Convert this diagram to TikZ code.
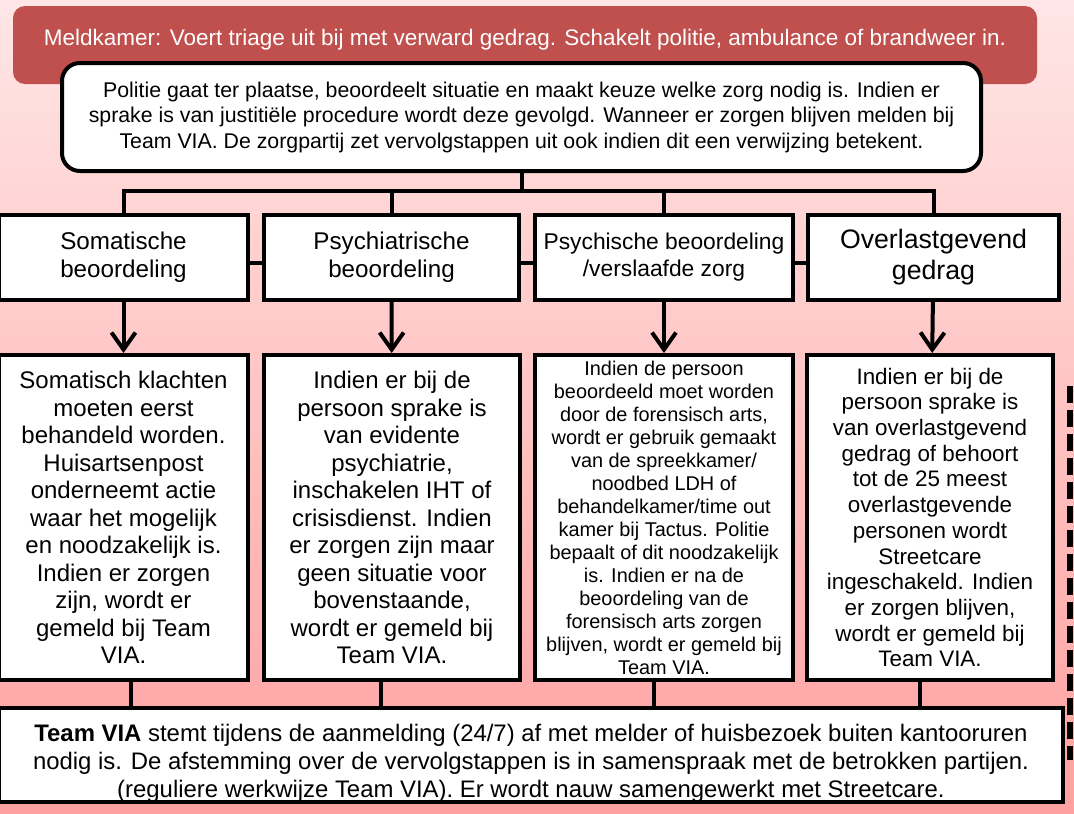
\documentclass[tikz,border=0pt]{standalone}
\usepackage{fontspec}
\setmainfont{Liberation Sans}
\usetikzlibrary{positioning, arrows.meta}

\definecolor{meldred}{RGB}{192,80,77}
\definecolor{bgtop}{RGB}{255,230,230}
\definecolor{bgbottom}{RGB}{255,160,160}

\begin{document}
\begin{tikzpicture}[x=1pt, y=-1pt,
    alarm/.style={rectangle, fill=meldred, rounded corners=12pt, text=white,
                  align=center, text height=0pt, text depth=0pt,
                  font=\fontsize{22.5}{26}\selectfont},
    police/.style={rectangle, draw=black, fill=white, line width=4pt, rounded corners=18pt,
                   align=center, font=\fontsize{21.3}{25.5}\selectfont},
    choice/.style={rectangle, draw=black, fill=white, line width=4pt,
                   minimum height=85pt, align=center, font=\fontsize{24.2}{28}\selectfont},
    detail/.style={rectangle, draw=black, fill=white, line width=4pt,
                   minimum height=325pt, align=center, font=\fontsize{24}{27.5}\selectfont},
    team/.style={rectangle, draw=black, fill=white, line width=4pt,
                 minimum width=1064pt, minimum height=92pt, align=center,
                 text height=89pt, inner ysep=0pt,
                 font=\fontsize{23.9}{28}\selectfont},
    joint/.style={draw=black, line width=4pt},
    flow/.style={joint, -{Straight Barb[length=17pt, width=24pt]}},
    dashline/.style={draw=black, line width=6pt, dash pattern=on 17pt off 7pt}
]
    \useasboundingbox (0,0) rectangle (1074,814);
    \fill[top color=bgtop, bottom color=bgbottom] (0,0) rectangle (1074,814);

    % Meldkamer and politie
    \node[alarm, minimum width=1024pt, minimum height=78pt] (meld) at (525,45)
        {Meldkamer: Voert triage uit bij met verward gedrag. Schakelt politie, ambulance of brandweer in.};
    \node[police, minimum width=919pt, minimum height=108pt] (pol) at (521.5,117)
        {Politie gaat ter plaatse, beoordeelt situatie en maakt keuze welke zorg nodig is. Indien er\\
         sprake is van justitiële procedure wordt deze gevolgd. Wanneer er zorgen blijven melden bij\\
         Team VIA. De zorgpartij zet vervolgstappen uit ook indien dit een verwijzing betekent.};

    % Beoordeling row
    \node[choice, minimum width=249pt] (som) at (123.5,257.5) {Somatische\\beoordeling};
    \node[choice, minimum width=255pt] (psy) at (391.5,257.5) {Psychiatrische\\beoordeling};
    \node[choice, minimum width=258pt, font=\fontsize{22.8}{27}\selectfont] (ver) at (664,257.5)
        {Psychische beoordeling\\/verslaafde zorg};
    \node[choice, minimum width=251pt, font=\fontsize{26.7}{31}\selectfont] (ovl) at (933.5,257.5)
        {Overlastgevend\\gedrag};

    % Toelichting row
    \node[detail, minimum width=249pt] (somtxt) at (123.5,517.5)
        {Somatisch klachten\\moeten eerst\\behandeld worden.\\Huisartsenpost\\onderneemt actie\\
         waar het mogelijk\\en noodzakelijk is.\\Indien er zorgen\\zijn, wordt er\\gemeld bij Team\\VIA.};
    \node[detail, minimum width=256pt] (psytxt) at (392,517.5)
        {Indien er bij de\\persoon sprake is\\van evidente\\psychiatrie,\\inschakelen IHT of\\
         crisisdienst. Indien\\er zorgen zijn maar\\geen situatie voor\\bovenstaande,\\
         wordt er gemeld bij\\Team VIA.};
    \node[detail, minimum width=258pt, font=\fontsize{19.9}{23}\selectfont] (vertxt) at (664,517.5)
        {Indien de persoon\\beoordeeld moet worden\\door de forensisch arts,\\wordt er gebruik gemaakt\\
         van de spreekkamer/\\noodbed LDH of\\behandelkamer/time out\\kamer bij Tactus. Politie\\
         bepaalt of dit noodzakelijk\\is. Indien er na de\\beoordeling van de\\forensisch arts zorgen\\
         blijven, wordt er gemeld bij\\Team VIA.};
    \node[detail, minimum width=246pt, font=\fontsize{22.4}{25.7}\selectfont] (ovltxt) at (930,517.5)
        {Indien er bij de\\persoon sprake is\\van overlastgevend\\gedrag of behoort\\tot de 25 meest\\
         overlastgevende\\personen wordt\\Streetcare\\ingeschakeld. Indien\\er zorgen blijven,\\
         wordt er gemeld bij\\Team VIA.};

    % Team VIA
    \node[team] (via) at (531,755)
        {\textbf{Team VIA} stemt tijdens de aanmelding (24/7) af met melder of huisbezoek buiten kantooruren\\
         nodig is. De afstemming over de vervolgstappen is in samenspraak met de betrokken partijen.\\
         (reguliere werkwijze Team VIA). Er wordt nauw samengewerkt met Streetcare.};

    % Connectors
    \coordinate (bar) at (523,191);
    \draw[joint] (pol.south) -- (pol.south |- bar);
    \draw[joint] (som.north) |- (bar) -| (ovl.north);
    \draw[joint] (psy.north) -- (psy.north |- bar);
    \draw[joint] (ver.north) -- (ver.north |- bar);
    \draw[joint] ([yshift=-5pt]som.east) -- ([yshift=-5pt]psy.west);
    \draw[joint] ([yshift=-5pt]psy.east) -- ([yshift=-5pt]ver.west);
    \draw[joint] ([yshift=-5pt]ver.east) -- ([yshift=-5pt]ovl.west);

    \draw[flow] (som) -- (somtxt);
    \draw[flow] (psy) -- (psytxt);
    \draw[flow] (ver) -- (vertxt);
    \draw[flow] (ovl) -- (ovltxt);

    \draw[joint] ([xshift=7pt]somtxt.south) -- ([xshift=7pt]somtxt.south |- via.north);
    \draw[joint] ([xshift=-11pt]psytxt.south) -- ([xshift=-11pt]psytxt.south |- via.north);
    \draw[joint] ([xshift=-10pt]vertxt.south) -- ([xshift=-10pt]vertxt.south |- via.north);
    \draw[joint] ([xshift=-10pt]ovltxt.south) -- ([xshift=-10pt]ovltxt.south |- via.north);

    \coordinate (dtop) at (1070,386);
    \coordinate (dbot) at (1070,760);
    \draw[dashline] (dtop) -- (dbot);
\end{tikzpicture}
\end{document}
